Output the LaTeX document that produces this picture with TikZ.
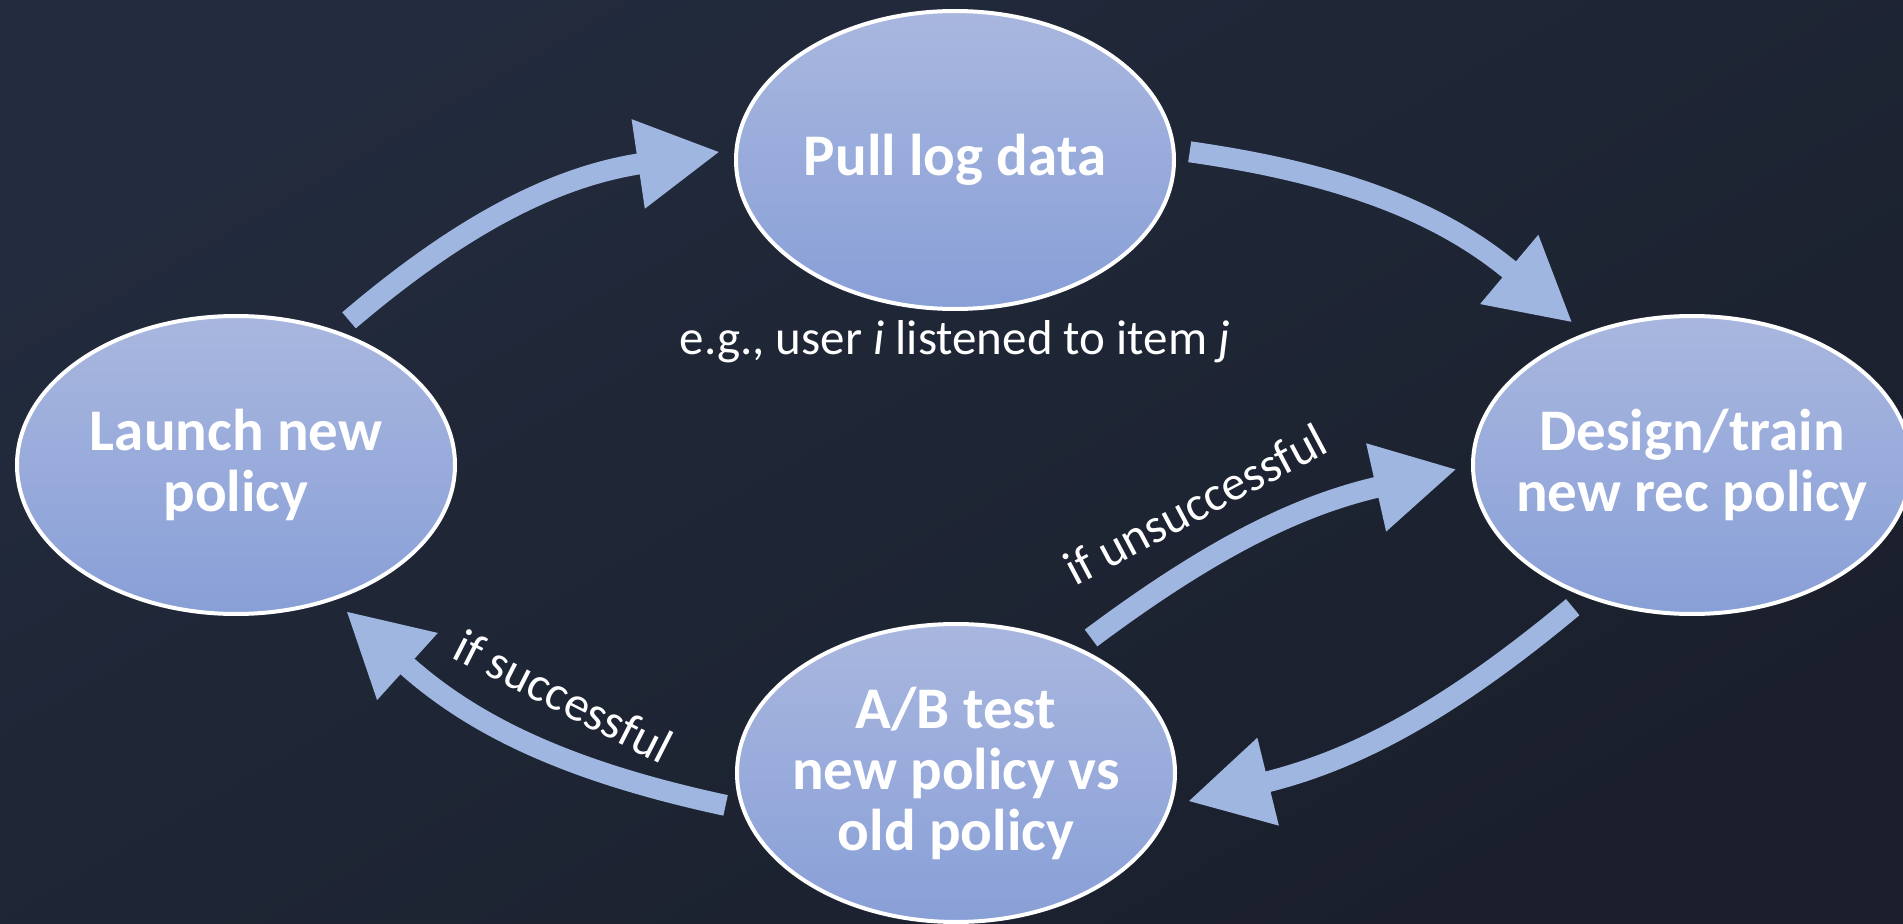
\documentclass[tikz,border=0pt]{standalone}
\usepackage{fontspec}
\setmainfont{Carlito}
\usetikzlibrary{arrows.meta, shapes.geometric, positioning}
\definecolor{bgtop}{HTML}{222B3D}
\definecolor{bgbottom}{HTML}{1A1F2B}
\definecolor{flowblue}{HTML}{9FB7E0}
\definecolor{stagetop}{HTML}{A9B7DF}
\definecolor{stagebottom}{HTML}{889FD7}

\begin{document}
\begin{tikzpicture}[x=0.5pt, y=0.5pt,
    stage/.style={ellipse, draw=white, line width=2pt, top color=stagetop,
      bottom color=stagebottom, minimum width=219pt, minimum height=149pt,
      inner sep=0pt, outer sep=8pt},
    stagetext/.style={text=white, align=center,
      font=\fontsize{29.5}{30.5}\selectfont\bfseries},
    flow/.style={draw=flowblue, line width=10.5pt,
      -{Triangle[width=42pt, length=41.5pt]}},
    note/.style={text=white, font=\fontsize{24.5}{28}\selectfont}]
        % Background
        \useasboundingbox (0,0) rectangle (1903,923);
        \shade[top color=bgtop, bottom color=bgbottom, shading angle=30]
          (0,0) rectangle (1903,923);
        % Stages of the loop
        \node[stage, label={[stagetext]center:Pull log data}] (pull) at (955,763) {};
        \node[stage, label={[stagetext]center:{Launch new\\policy}}] (launch) at (236,458) {};
        \node[stage, label={[stagetext]center:{Design/train\\new rec policy}}] (design) at (1692,458) {};
        \node[stage, label={[stagetext]center:{A/B test\\new policy vs\\old policy}}] (abtest) at (956,150) {};
        % Arrows between stages
        \foreach \from/\to/\bend in {
            launch.52/pull.178/16,
            pull.2/design.130/16,
            design.230/abtest.353/13,
            abtest.188/launch.307/15,
            abtest.45/design.181/12}{
          \draw[flow] (\from) to[bend left=\bend] (\to);
        }
        % Notes
        \node[note] (example) at (955,581) {e.g., user \textit{i} listened to item \textit{j}};
        \node[note, rotate=28, anchor=base] (unsuccess) at (1203,404) {if unsuccessful};
        \node[note, rotate=-27, anchor=base] (success) at (556,212) {if successful};
      \end{tikzpicture}
\end{document}
